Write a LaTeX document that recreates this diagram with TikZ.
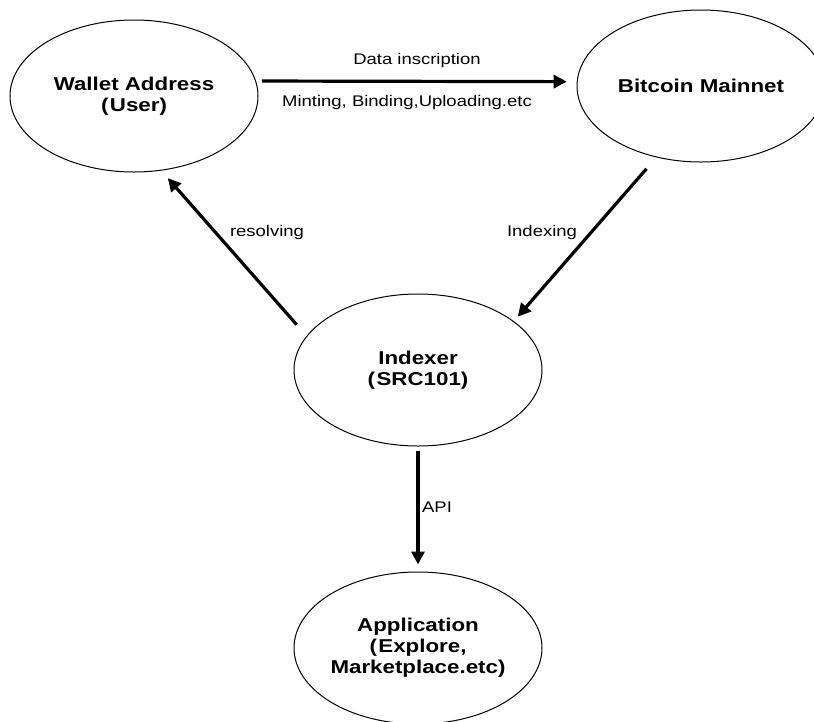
\documentclass[tikz,border=0pt]{standalone}
\usepackage{fontspec}
\setmainfont{Liberation Sans}[FakeStretch=1.2]
\usetikzlibrary{arrows.meta,shapes.geometric}
\begin{document}
\begin{tikzpicture}[x=1pt,y=-1pt,
  bubble/.style={ellipse, draw, line width=1pt, minimum width=248pt, minimum height=152pt,
    inner sep=0pt, align=center, font=\fontsize{18.6}{21}\selectfont\bfseries},
  flow/.style={line width=3.2pt, -{Triangle[length=13pt,width=13pt]}},
  lbl/.style={font=\fontsize{15.4}{18}\selectfont, inner sep=0pt}]
\useasboundingbox[fill=white] (0,0) rectangle (814,721);
\node[bubble] (wallet) at (134,96) {Wallet Address\\(\kern1.5pt User)};
\node[bubble] (bitcoin) at (701,86) {Bitcoin Mainnet};
\node[bubble] (indexer) at (418,370) {Indexer\\(\kern1.5pt SRC101)};
\node[bubble] (app) at (418,648) {Application\\(\kern1.5pt Explore,\\Marketplace.etc)};

\draw[flow, shorten <=6pt, shorten >=10pt] (wallet.7) -- (bitcoin.178);
\draw[flow, shorten <=15pt, shorten >=10pt] (indexer.163) -- (wallet.-70);
\draw[flow, shorten <=15pt, shorten >=6pt] (bitcoin.-122) -- (indexer.27);
\draw[flow, shorten <=4pt, shorten >=7pt] (indexer.south) -- (app.north);

\node[lbl] (l1) at (417,61) {Data inscription};
\node[lbl] (l2) at (407,103) {Minting, Binding,Uploading.etc};
\node[lbl] (l3) at (267,233) {resolving};
\node[lbl] (l4) at (542,233) {Indexing};
\node[lbl] (l5) at (437,507) {API};
\end{tikzpicture}
\end{document}
